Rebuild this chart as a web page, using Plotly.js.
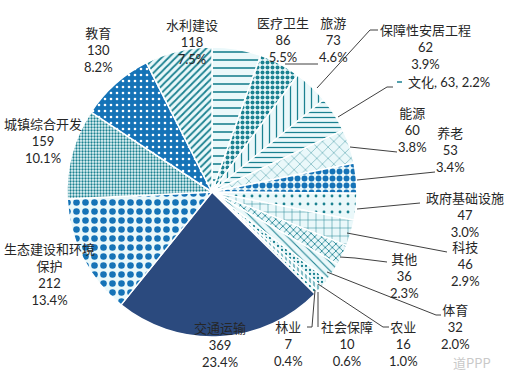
<!DOCTYPE html>
<html>
<head>
<meta charset="utf-8">
<script src="https://cdn.plot.ly/plotly-3.0.1.min.js"></script>
<style>html,body{margin:0;padding:0;background:#fff;}#chart{width:505px;height:382px;}</style>
</head>
<body>
<div id="chart"></div>
<script>
// ---- data ----
const labels = ['医疗卫生','旅游','保障性安居工程','文化','能源','养老','政府基础设施','科技','其他','体育','农业','社会保障','林业','交通运输','生态建设和环境保护','城镇综合开发','教育','水利建设'];
const counts = [86,73,62,63,60,53,47,46,36,32,16,10,7,369,212,159,130,118];
const pctLabels = ['5.5%','4.6%','3.9%','2.2%','3.8%','3.4%','3.0%','2.9%','2.3%','2.0%','1.0%','0.6%','0.4%','23.4%','13.4%','10.1%','8.2%','7.5%'];

// ---- styling ----
const W = 505, H = 382;
const TEAL = '#1b8190', BLUE = '#1573b7', NAVY = '#2b4a7e', LIGHT = '#eaf8fa';
const pat = [
  ['-', TEAL, LIGHT, 8, 0.2],
  ['.', TEAL, LIGHT, 5, 0.5],
  ['|', TEAL, LIGHT, 7, 0.18],
  ['-', TEAL, LIGHT, 5, 0.25],
  ['x', TEAL, LIGHT, 8, 0.1],
  ['.', BLUE, LIGHT, 7, 0.55],
  ['.', TEAL, LIGHT, 8, 0.1],
  ['+', TEAL, LIGHT, 8, 0.12],
  ['x', TEAL, LIGHT, 5, 0.3],
  ['\\', TEAL, LIGHT, 6, 0.18],
  ['.', TEAL, LIGHT, 4, 0.25],
  ['|', TEAL, LIGHT, 4, 0.25],
  ['.', TEAL, LIGHT, 4, 0.25],
  ['', NAVY, NAVY, 8, 0.3],
  ['.', BLUE, LIGHT, 9, 0.42],
  ['.', TEAL, LIGHT, 3, 0.45],
  ['.', '#ffffff', BLUE, 6, 0.15],
  ['/', TEAL, LIGHT, 5, 0.35]
];

const cx = 212, cy = 192, r = 145;
const trace = {
  type: 'pie',
  labels: labels,
  values: counts,
  sort: false,
  direction: 'clockwise',
  rotation: 0,
  textinfo: 'none',
  hoverinfo: 'none',
  showlegend: false,
  domain: {x: [(cx - r) / W, (cx + r) / W], y: [(H - cy - r) / H, (H - cy + r) / H]},
  marker: {
    colors: pat.map(p => p[0] === '' ? p[1] : p[2]),
    line: {color: '#ffffff', width: 1.5},
    pattern: {
      shape: pat.map(p => p[0]),
      fgcolor: pat.map(p => p[1]),
      bgcolor: pat.map(p => p[2]),
      size: pat.map(p => p[3]),
      solidity: pat.map(p => p[4]),
      fillmode: 'replace'
    }
  }
};

// label placement (pixel centers)
const place = [
  [283,40],[333,40],[425,47],[449,82],[412,130],[450,150],[465,215],[465,264],[404,276],
  [455,327],[403,344],[347,344],[288,344],[220,345],[49,274],[43,141],[98,50],[192,42]
];
const nameBreak = {'生态建设和环境保护': '生态建设和环境<br>保护'};
const annotations = labels.map((lab, i) => {
  const name = nameBreak[lab] || lab;
  const txt = (i === 3) ? `${lab}, ${counts[i]}, ${pctLabels[i]}` : `${name}<br>${counts[i]}<br>${pctLabels[i]}`;
  return {
    xref: 'paper', yref: 'paper',
    x: place[i][0] / W, y: 1 - place[i][1] / H,
    xanchor: 'center', yanchor: 'middle',
    text: txt, showarrow: false, align: 'center',
    font: {family: 'Lato, "Noto Sans CJK SC", sans-serif', size: 13, color: '#262626'}
  };
});
annotations.push({
  xref: 'paper', yref: 'paper', x: 472 / W, y: 1 - 362 / H,
  xanchor: 'center', yanchor: 'middle', text: '道PPP', showarrow: false,
  font: {family: '"Noto Sans CJK SC", sans-serif', size: 13, color: '#c9c9c9'}
});

// leader lines (pixel coordinates)
const leaders = [
  [[285,64],[318,64]],
  [[317,88],[370,30],[378,30]],
  [[338,117],[387,87],[393,87]],
  [[350,147],[397,152]],
  [[357,180],[435,172]],
  [[357,209],[420,203]],
  [[347,233],[447,252]],
  [[340,257],[355,258],[387,262]],
  [[327,272],[436,315],[441,315]],
  [[318,284],[383,327],[389,327]],
  [[318,292],[318,327]],
  [[315,290],[312,327],[307,327]]
];
const P = (pt) => `${pt[0] / W},${1 - pt[1] / H}`;
const shapes = leaders.map(pts => ({
  type: 'path', xref: 'paper', yref: 'paper',
  path: 'M' + pts.map(P).join(' L'),
  line: {color: '#404040', width: 1}
}));
shapes.push({type: 'line', xref: 'paper', yref: 'paper',
  x0: 397 / W, x1: 402 / W, y0: 1 - 82 / H, y1: 1 - 82 / H, line: {color: TEAL, width: 1.5}});

const layout = {
  width: W, height: H,
  margin: {l: 0, r: 0, t: 0, b: 0},
  paper_bgcolor: '#ffffff',
  showlegend: false,
  annotations: annotations,
  shapes: shapes
};
Plotly.newPlot('chart', [trace], layout, {displayModeBar: false, staticPlot: true});
</script>
</body>
</html>
